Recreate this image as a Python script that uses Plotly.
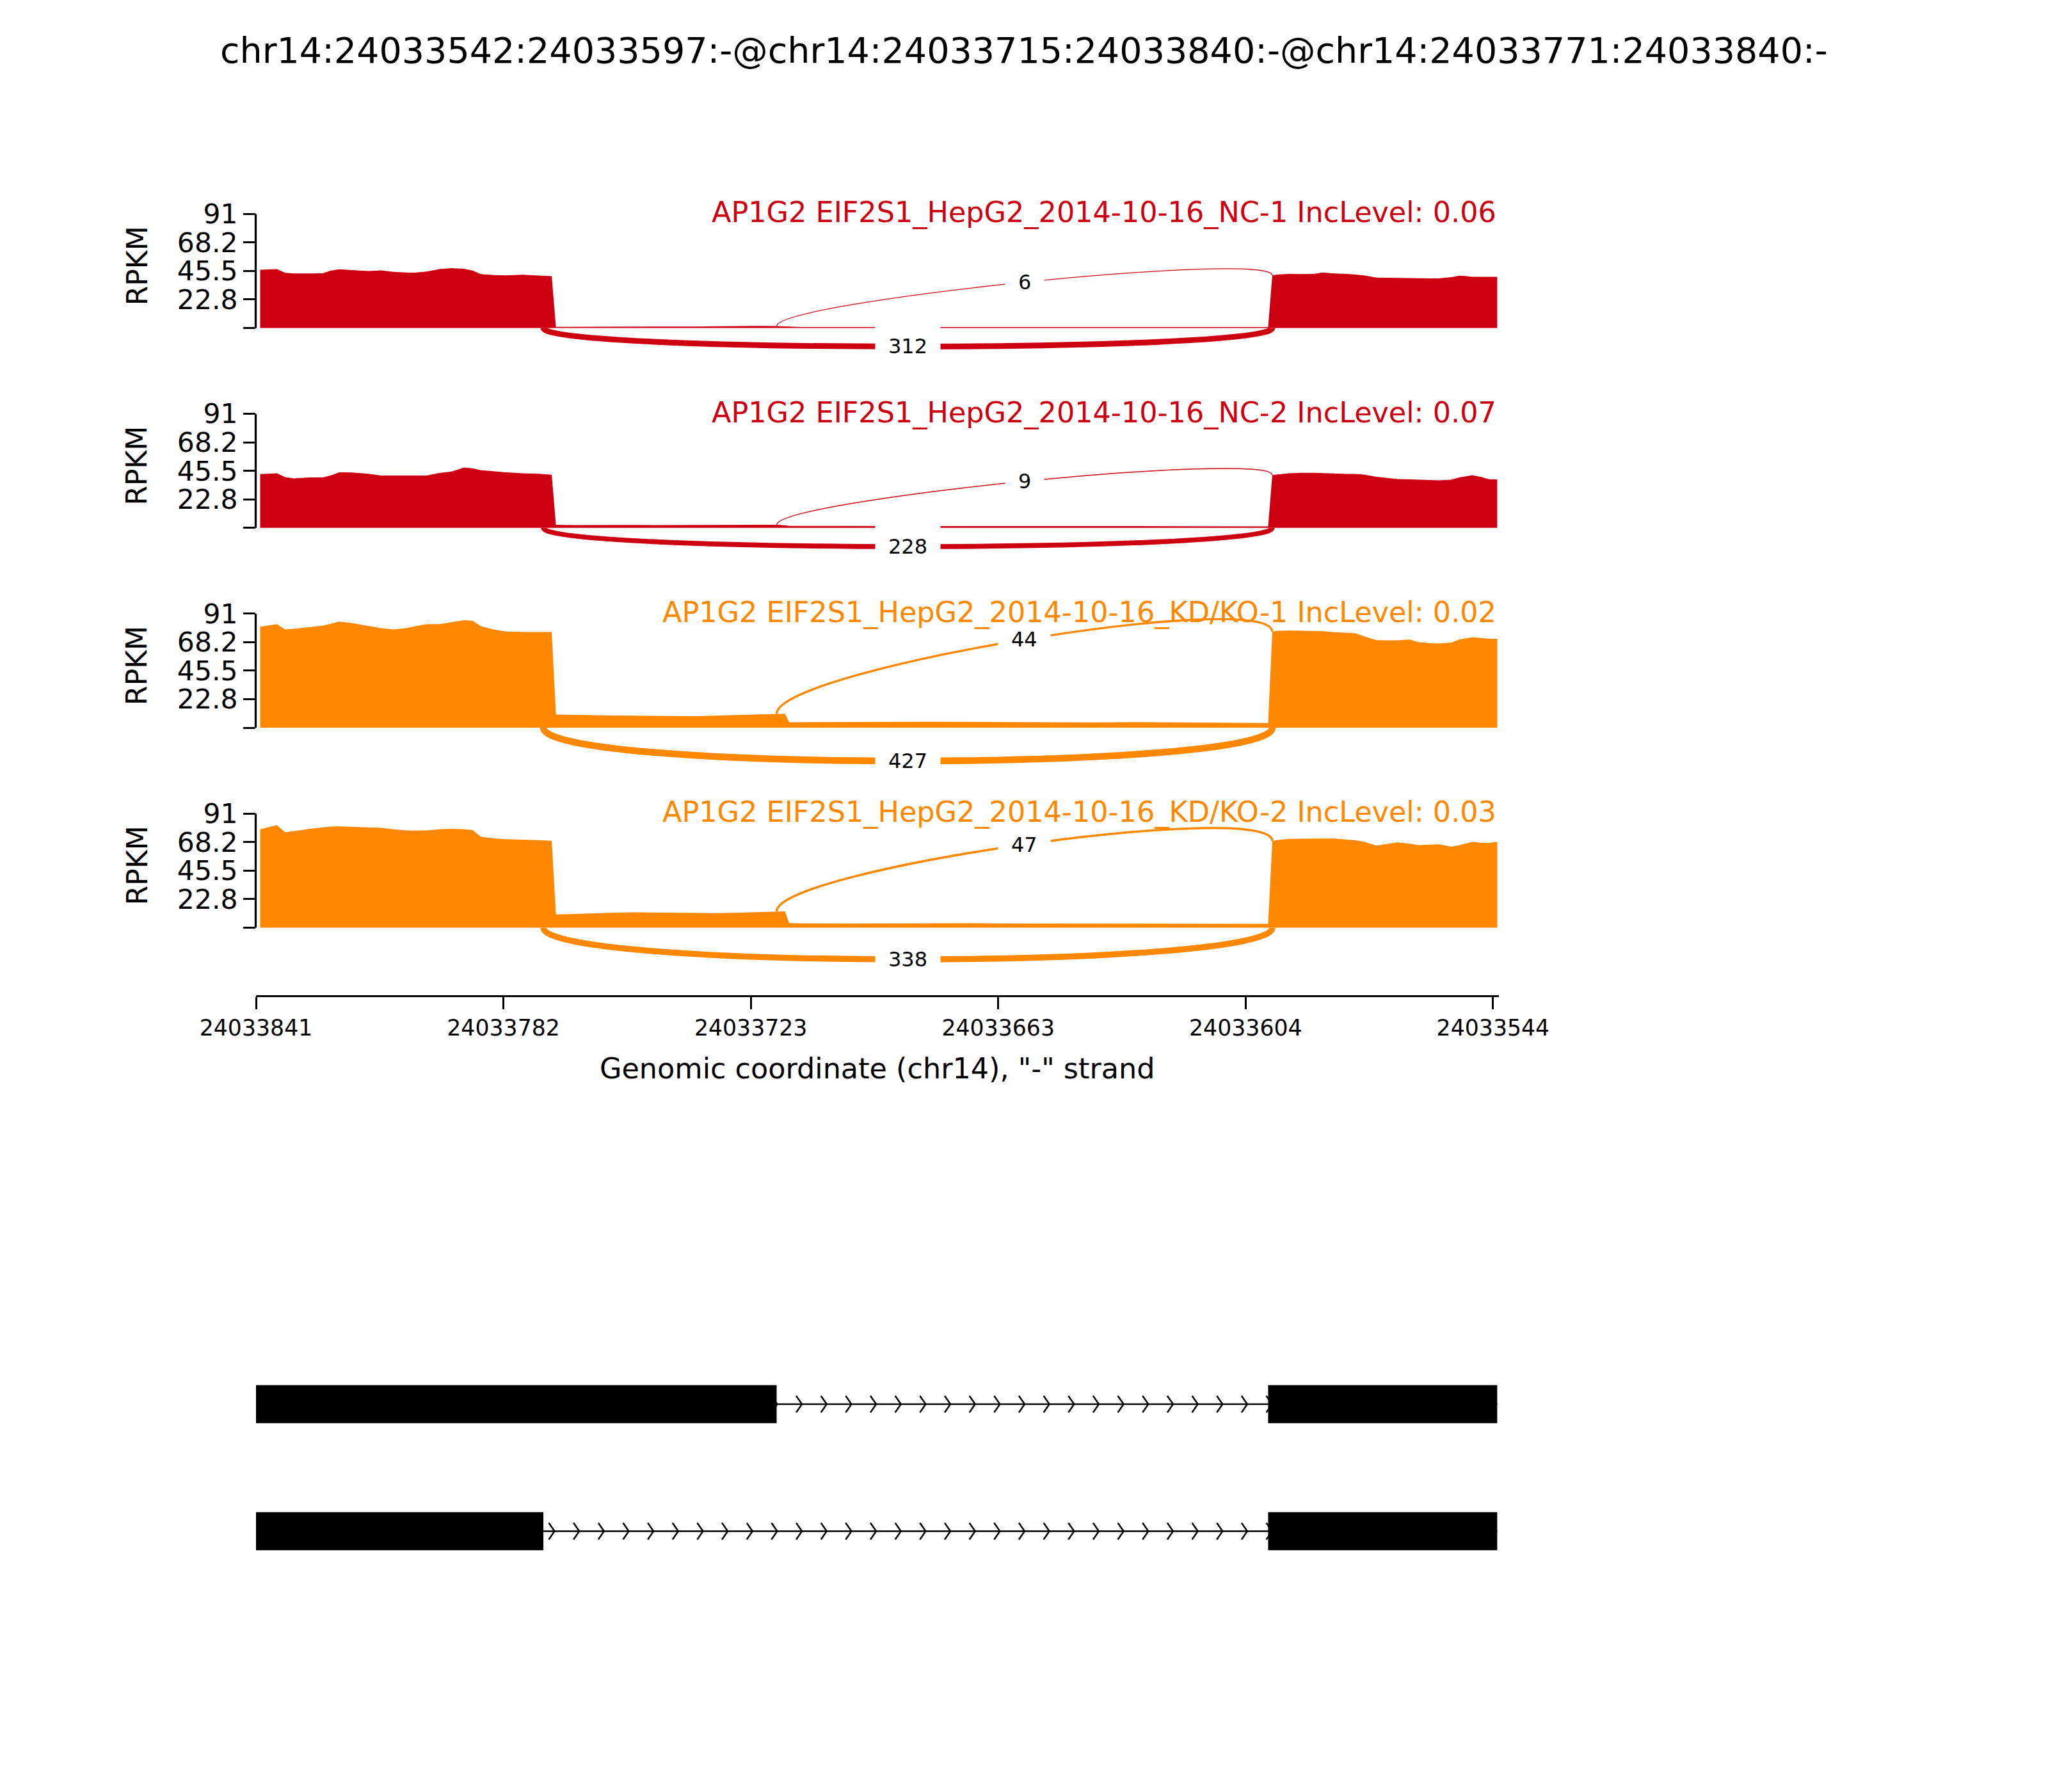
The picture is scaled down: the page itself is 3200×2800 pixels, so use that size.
import numpy as np
import plotly.graph_objects as go

W, H = 3200, 2800
FONT = "DejaVu Sans"

TITLE = "chr14:24033542:24033597:-@chr14:24033715:24033840:-@chr14:24033771:24033840:-"
SAMPLE_TITLES = [
    "AP1G2 EIF2S1_HepG2_2014-10-16_NC-1 IncLevel: 0.06",
    "AP1G2 EIF2S1_HepG2_2014-10-16_NC-2 IncLevel: 0.07",
    "AP1G2 EIF2S1_HepG2_2014-10-16_KD/KO-1 IncLevel: 0.02",
    "AP1G2 EIF2S1_HepG2_2014-10-16_KD/KO-2 IncLevel: 0.03",
]
SAMPLE_COLORS = ["#CC0011", "#CC0011", "#FF8800", "#FF8800"]

# genomic positions (plot coordinates) where coverage was read
POS = [24033840, 24033836, 24033834, 24033832, 24033828, 24033825, 24033823, 24033821,
       24033818, 24033814, 24033811, 24033808, 24033805, 24033803, 24033800, 24033797,
       24033794, 24033791, 24033789, 24033787, 24033784, 24033781, 24033777, 24033773,
       24033770,
       24033769, 24033765, 24033760, 24033755, 24033750, 24033745, 24033740, 24033735,
       24033730, 24033725, 24033720, 24033716, 24033714, 24033713,
       24033710, 24033700, 24033690, 24033680, 24033670, 24033660, 24033650, 24033640,
       24033630, 24033620, 24033610, 24033600, 24033598,
       24033597, 24033596, 24033593, 24033590, 24033587, 24033585, 24033582, 24033579,
       24033577, 24033575, 24033572, 24033569, 24033567, 24033564, 24033562, 24033559,
       24033557, 24033554, 24033552, 24033549, 24033547, 24033545, 24033543]

NC1_RPKM = [46.5, 47.0, 44.0, 43.5, 43.5, 43.7, 45.8, 46.8, 46.2, 45.5, 46.0, 44.8, 44.3, 44.2,
            45.0, 47.0, 47.8, 47.2, 45.8, 43.0, 42.3, 42.0, 42.5, 41.8, 41.4,
            0.9, 0.9, 0.9, 1.0, 1.0, 1.0, 1.1, 1.2, 1.4, 1.6, 1.6, 1.5, 1.3, 0.9,
            0.8, 0.8, 0.9, 0.8, 0.8, 0.7, 0.8, 0.8, 0.7, 0.8, 0.7, 0.7, 0.7,
            42.0, 42.6, 43.2, 43.0, 43.2, 44.3, 43.5, 43.2, 42.6, 42.0, 40.2, 40.0, 40.0, 39.8,
            39.6, 39.6, 39.6, 40.6, 41.8, 40.9, 40.8, 40.8, 40.8]
NC2_RPKM = [42.9, 43.6, 40.5, 39.5, 40.2, 40.2, 41.9, 44.3, 44.2, 43.2, 41.8, 41.8, 41.5, 41.5,
            41.8, 43.8, 45.0, 48.2, 47.5, 46.0, 45.0, 44.3, 43.6, 43.2, 42.4,
            2.4, 2.2, 2.3, 2.4, 2.3, 2.2, 2.3, 2.5, 2.6, 2.5, 2.5, 2.4, 2.1, 1.5,
            1.5, 1.4, 1.6, 1.7, 1.6, 1.5, 1.4, 1.5, 1.4, 1.3, 1.2, 1.1, 1.1,
            42.0, 42.5, 43.6, 44.0, 44.0, 43.7, 43.2, 43.1, 43.1, 42.5, 40.8, 39.6, 39.0, 38.7,
            38.4, 38.1, 37.9, 38.4, 40.3, 42.0, 40.8, 38.8, 38.6]
KD1_RPKM = [80.6, 82.7, 78.5, 79.0, 80.4, 81.5, 83.0, 84.7, 83.5, 81.0, 79.5, 78.5, 79.5, 80.8,
            82.7, 82.7, 84.2, 85.8, 85.3, 81.0, 78.5, 76.8, 76.4, 76.4, 76.4,
            10.5, 10.2, 10.0, 9.8, 9.6, 9.5, 9.4, 9.2, 9.7, 10.2, 10.5, 11.2, 11.2, 4.4,
            4.4, 4.5, 4.6, 4.8, 4.6, 4.5, 4.4, 4.3, 4.5, 4.2, 4.0, 3.8, 3.8,
            76.5, 77.3, 77.6, 77.5, 77.3, 77.0, 76.3, 75.8, 75.4, 73.0, 69.9, 69.8, 69.8, 70.4,
            68.3, 67.5, 67.2, 68.0, 70.5, 72.2, 71.6, 71.0, 71.0]
KD2_RPKM = [78.5, 81.8, 76.0, 77.0, 78.8, 80.0, 80.6, 80.8, 80.5, 80.0, 79.6, 78.5, 77.6, 77.4,
            77.6, 78.5, 78.9, 78.5, 77.8, 72.5, 71.2, 70.6, 70.3, 69.8, 69.3,
            10.5, 10.8, 11.5, 12.0, 12.2, 12.0, 11.8, 11.5, 11.5, 12.0, 12.6, 13.0, 13.0, 3.6,
            3.4, 3.3, 3.4, 3.6, 3.5, 3.3, 3.2, 3.4, 3.2, 3.1, 3.0, 3.0, 3.0,
            69.0, 69.8, 70.8, 71.0, 71.0, 71.0, 71.0, 70.3, 69.6, 68.5, 65.5, 67.0, 68.0, 67.0,
            65.8, 66.2, 66.5, 64.5, 65.8, 68.5, 67.8, 67.5, 68.5]
COVERAGE = [NC1_RPKM, NC2_RPKM, KD1_RPKM, KD2_RPKM]

# junctions (left end, right end) in plot coordinates: inclusion (drawn above), skipping (drawn below)
JUNCTIONS = [(24033716, 24033597), (24033772, 24033597)]
NC1_JXN = [6, 312]
NC2_JXN = [9, 228]
KD1_JXN = [44, 427]
KD2_JXN = [47, 338]
JXN_COUNTS = [NC1_JXN, NC2_JXN, KD1_JXN, KD2_JXN]

Y_TICKS = [0, 22.8, 45.5, 68.2, 91]
Y_TICK_LABELS = ["", "22.8", "45.5", "68.2", "91"]
X_TICK_LABELS = ["24033841", "24033782", "24033723", "24033663", "24033604", "24033544"]
X_LABEL = 'Genomic coordinate (chr14), "-" strand'

# transcript exons in plot coordinates
TRANSCRIPTS = [
    [(24033841, 24033716), (24033598, 24033543)],
    [(24033841, 24033772), (24033598, 24033543)],
]

# ---------------- layout constants (pixels) ----------------
PAGE_OFFSET = 8  # page body margin in the browser
X_LEFT_PX, X_RIGHT_PX = 400, 2342
X_RANGE = [24033841, 24033542.6]
PANEL_TOP_PX = 334.3
PANEL_STEP_PX = 312.3
PX_PER_UNIT = 1.958
Y_MIN, Y_MAX = -45.5, 91
XAXIS_PX = 1555.7
ROW_PX = [2194.0, 2392.5]
ROW_STEP_PX = ROW_PX[1] - ROW_PX[0]


def py(px):
    return 1 - (px - PAGE_OFFSET) / H


def px_x(px):
    return (px - PAGE_OFFSET) / W


def bez(p, t):
    (x0, y0), (x1, y1), (x2, y2), (x3, y3) = p
    a, b, c, d = (1 - t) ** 3, 3 * (1 - t) ** 2 * t, 3 * (1 - t) * t ** 2, t ** 3
    return a * x0 + b * x1 + c * x2 + d * x3, a * y0 + b * y1 + c * y2 + d * y3


fig = go.Figure()
layout = dict(
    width=W, height=H, autosize=False,
    margin=dict(l=0, r=0, t=0, b=0, pad=0, autoexpand=False),
    paper_bgcolor="white", plot_bgcolor="white", showlegend=False,
    font=dict(family=FONT, color="black"),
)
shapes, annotations = [], []

layout["xaxis"] = dict(
    domain=[px_x(X_LEFT_PX), px_x(X_RIGHT_PX)], range=X_RANGE, anchor="free",
    position=py(XAXIS_PX), showline=True, linecolor="black", linewidth=3.3,
    ticks="outside", ticklen=19, tickwidth=3.3, tickcolor="black",
    tickvals=list(np.linspace(24033841, 24033544, len(X_TICK_LABELS))),
    ticktext=X_TICK_LABELS, tickfont=dict(size=34.7, family=FONT, color="black"),
    showgrid=False, zeroline=False, automargin=False,
)

pos = np.array(POS, dtype=float)
max_count = max(max(c) for c in JXN_COUNTS)

label_anns = []
title_anns = []
for i in range(4):
    yname = "y" if i == 0 else f"y{i + 1}"
    lname = "yaxis" if i == 0 else f"yaxis{i + 1}"
    top = PANEL_TOP_PX + i * PANEL_STEP_PX
    bot = top + (Y_MAX - Y_MIN) * PX_PER_UNIT
    layout[lname] = dict(
        domain=[py(bot), py(top)], range=[Y_MIN, Y_MAX], anchor="x",
        showline=False, ticks="outside", ticklen=19, tickwidth=3.3, tickcolor="black",
        tickvals=Y_TICKS, ticktext=Y_TICK_LABELS,
        tickfont=dict(size=42.5, family=FONT, color="black"),
        showgrid=False, zeroline=False, automargin=False,
    )
    cov = np.array(COVERAGE[i], dtype=float)
    col = SAMPLE_COLORS[i]
    fig.add_trace(go.Scatter(
        x=POS, y=COVERAGE[i], mode="lines", line=dict(width=0, color=col),
        fill="tozeroy", fillcolor=col, yaxis=yname, xaxis="x", hoverinfo="skip"))

    # spine from 0 to 91
    shapes.append(dict(type="line", xref="paper", yref=yname,
                       x0=px_x(X_LEFT_PX - 0.5), x1=px_x(X_LEFT_PX - 0.5), y0=0, y1=Y_MAX,
                       line=dict(color="black", width=3.3), layer="above"))

    hgt = 0.375 * 1.1 * cov.max()
    for j, (ss1, ss2) in enumerate(JUNCTIONS):
        cnt = JXN_COUNTS[i][j]
        if j == 0:
            ld = float(np.interp(ss1, pos[::-1], cov[::-1]))
            rd = float(np.interp(ss2, pos[::-1], cov[::-1]))
            pts = [(ss1, ld), (ss1, ld + hgt), (ss2, rd + hgt), (ss2, rd)]
        else:
            pts = [(ss1, 0), (ss1, -hgt), (ss2, -hgt), (ss2, 0)]
        path = "M {},{} C {},{} {},{} {},{}".format(*[v for p in pts for v in p])
        lw = max(1.3, 10.5 * np.sqrt(cnt / max_count))
        shapes.append(dict(type="path", xref="x", yref=yname, path=path,
                           line=dict(color=col, width=lw), layer="above"))
        mx, my = bez(pts, 0.5)
        label_anns.append(dict(
            x=mx, y=my, xref="x", yref=yname, text=str(cnt), showarrow=False,
            xanchor="center", yanchor="middle", bgcolor="white", borderpad=20,
            font=dict(size=32, family=FONT, color="black")))

    title_anns.append(dict(
        x=px_x(2340), y=py(top - 2), xref="paper", yref="paper", text=SAMPLE_TITLES[i],
        showarrow=False, xanchor="right", yanchor="middle",
        font=dict(size=44.5, family=FONT, color=col)))
    title_anns.append(dict(
        x=px_x(214), y=py(top + 81), xref="paper", yref="paper", text="RPKM",
        showarrow=False, xanchor="center", yanchor="middle", textangle=-90,
        font=dict(size=44, family=FONT, color="black")))

# gene structure panel
gy0 = ROW_PX[0] - ROW_STEP_PX
gy1 = ROW_PX[1] + ROW_STEP_PX
layout["yaxis5"] = dict(domain=[py(gy1), py(gy0)], range=[3, 0], anchor="x",
                        visible=False, showgrid=False, zeroline=False, automargin=False)
EXON_HALF = 29.8 / ROW_STEP_PX
ARROW_DY = 13.0 / ROW_STEP_PX
ARROW_DX = 9.0 / 6.508
ARROW_STEP = 5.94
for r, tx in enumerate(TRANSCRIPTS):
    row = r + 1
    xs = [e for ex in tx for e in ex]
    fig.add_trace(go.Scatter(x=[max(xs), min(xs)], y=[row, row], mode="lines",
                             line=dict(color="black", width=2.7), xaxis="x", yaxis="y5",
                             hoverinfo="skip"))
    ax, ay = [], []
    k = 0
    while True:
        tip = 24033840.6 - ARROW_STEP * k
        if tip < min(xs):
            break
        ax += [tip + ARROW_DX, tip, tip + ARROW_DX, None]
        ay += [row - ARROW_DY, row, row + ARROW_DY, None]
        k += 1
    fig.add_trace(go.Scatter(x=ax, y=ay, mode="lines", line=dict(color="black", width=2.5),
                             xaxis="x", yaxis="y5", hoverinfo="skip"))
    for (a, b) in tx:
        shapes.append(dict(type="rect", xref="x", yref="y5", x0=a, x1=b,
                           y0=row - EXON_HALF, y1=row + EXON_HALF,
                           fillcolor="black", line=dict(width=0), layer="above"))

annotations += label_anns + title_anns
annotations.append(dict(x=px_x(1600), y=py(78), xref="paper", yref="paper", text=TITLE,
                        showarrow=False, xanchor="center", yanchor="middle",
                        font=dict(size=55.5, family=FONT, color="black")))
annotations.append(dict(x=px_x((X_LEFT_PX + X_RIGHT_PX) / 2), y=py(1669), xref="paper",
                        yref="paper", text=X_LABEL, showarrow=False, xanchor="center",
                        yanchor="middle", font=dict(size=44.5, family=FONT, color="black")))

layout["shapes"] = shapes
layout["annotations"] = annotations
fig.update_layout(**layout)
fig.write_html("out.html")
